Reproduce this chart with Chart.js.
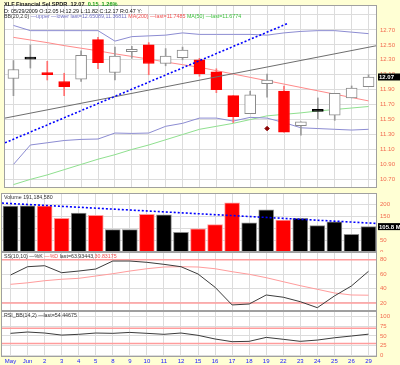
<!DOCTYPE html>
<html>
<head>
<meta charset="utf-8">
<script src="https://cdn.jsdelivr.net/npm/chart.js@4.4.0/dist/chart.umd.min.js"></script>
<style>
  html, body { margin: 0; padding: 0; background: #ffffd4; }
  #wrap { position: relative; width: 400px; height: 365px; overflow: hidden; }
  canvas { position: absolute; left: 0; }
  .lbl { position: absolute; left: 4px; font-family: "Liberation Sans", Arial, sans-serif; font-size: 5.3px; white-space: nowrap; color: #333; line-height: 6px; }
</style>
</head>
<body>
<div id="wrap">
  <canvas id="priceCanvas" width="400" height="193" style="top:0"></canvas>
  <canvas id="volCanvas" width="400" height="59" style="top:193px"></canvas>
  <canvas id="ssCanvas" width="400" height="59" style="top:252px"></canvas>
  <canvas id="rsiCanvas" width="400" height="54" style="top:311px"></canvas>

  <div class="lbl" style="top:1px;font-size:5.6px;font-weight:bold;color:#222">XLF Financial Sel SPDR &nbsp;12.07 &nbsp;<span style="color:#1ea01e">0.15 &nbsp;1.26%</span></div>
  <div class="lbl" style="top:8px;color:#111;font-size:5.4px">D: 05/29/2009 O:12.05 H:12.29 L:11.82 C:12.17 R:0.47 Y:</div>
  <div class="lbl" style="top:13px">BB(20,2.0) <span style="color:#6f6fc4">&mdash;upper &mdash;lower last=12.65089,11.36811</span> <span style="color:#f05050">MA(200) &mdash;last=11.7485</span> <span style="color:#3cc03c">MA(50) &mdash;last=11.6774</span></div>
  <div class="lbl" style="top:194px">Volume 191,184,580</div>
  <div class="lbl" style="top:253px">SS(10,10) &mdash;%K <span style="color:#f05050">&mdash;%D</span> last=63.93443,<span style="color:#f05050">30.83175</span></div>
  <div class="lbl" style="top:312px">RSI_BB(14,2) &mdash;last=54.44675</div>
</div>

<script>
// trading days, Friday May 29 to Monday Jun 29 2009
const dates = ['May', 'Jun', '2', '3', '4', '5', '8', '9', '10', '11', '12', '15', '16', '17', '18', '19', '22', '23', '24', '25', '26', '29'];

const openP  = [12.05, 12.31, 12.13, 12.01, 12.04, 12.57, 12.13, 12.41, 12.50, 12.25, 12.33, 12.30, 12.14, 11.82, 11.58, 11.98, 11.88, 11.42, 11.61, 11.56, 11.79, 11.94];
const highP  = [12.29, 12.50, 12.28, 12.12, 12.42, 12.60, 12.47, 12.48, 12.53, 12.45, 12.47, 12.32, 12.18, 11.82, 11.88, 12.11, 11.95, 11.47, 11.79, 11.85, 11.95, 12.10];
const lowP   = [11.82, 12.19, 12.03, 11.82, 12.01, 12.18, 12.03, 12.32, 12.10, 12.22, 12.30, 12.08, 11.86, 11.46, 11.58, 11.80, 11.33, 11.29, 11.51, 11.49, 11.79, 11.94];
const closeP = [12.17, 12.31, 12.10, 11.94, 12.36, 12.26, 12.35, 12.44, 12.25, 12.35, 12.43, 12.11, 11.90, 11.54, 11.83, 12.03, 11.33, 11.47, 11.61, 11.85, 11.92, 12.07];

const bbUpper = [12.76, 12.69, 12.69, 12.69, 12.69, 12.69, 12.55, 12.61, 12.62, 12.63, 12.66, 12.64, 12.64, 12.64, 12.64, 12.63, 12.66, 12.68, 12.69, 12.69, 12.67, 12.65];
const bbLower = [10.90, 11.16, 11.19, 11.22, 11.235, 11.24, 11.32, 11.315, 11.32, 11.41, 11.45, 11.52, 11.52, 11.48, 11.53, 11.52, 11.46, 11.39, 11.38, 11.37, 11.36, 11.37];
const ma200 = [12.60, 12.565, 12.53, 12.49, 12.455, 12.42, 12.38, 12.345, 12.31, 12.27, 12.235, 12.20, 12.155, 12.11, 12.065, 12.02, 11.975, 11.93, 11.885, 11.84, 11.795, 11.75];
const ma50 = [10.63, 10.70, 10.76, 10.83, 10.90, 10.97, 11.03, 11.10, 11.16, 11.23, 11.30, 11.37, 11.41, 11.45, 11.50, 11.55, 11.57, 11.59, 11.615, 11.635, 11.655, 11.675];

// hand drawn trend lines (date index, value)
const trendUpX = [-0.5, 16.26];
const trendUpY = [11.19, 12.79];
const trendGrayX = [-0.5, 21.5];
const trendGrayY = [11.52, 12.49];
const markerX = [15];
const markerY = [11.38];

// volume in millions
const volume = [191.2, 193, 193, 140, 162, 153, 93, 93, 157, 155, 82, 97, 114, 205, 122, 176, 133, 140, 110, 126, 74, 105.8];
const volTrendX = [-0.5, 21.5];
const volTrendY = [204, 119];

const ssK = [58.8, 70.3, 71.7, 62, 64.3, 67.1, 78.2, 78.2, 76.4, 73.6, 70.3, 60.2, 41.8, 17.3, 18.6, 31.1, 28, 21.8, 13.5, 29.7, 43.6, 63.9];
const ssD = [45.9, 48, 50.9, 52.9, 54.2, 57.4, 60.6, 64.3, 67.5, 69.9, 70.3, 69.9, 67.5, 63.4, 59.8, 55.1, 49.5, 44, 39, 33.9, 31.1, 30.8];
const rsi = [56.6, 60, 57.4, 52, 54, 57.4, 56.6, 59, 56.6, 54, 57.4, 51.4, 41.8, 34.8, 35.7, 46, 41, 35.7, 39, 45, 49.6, 54.4];

const priceTicks = [10.7, 10.8, 10.9, 11.0, 11.1, 11.2, 11.3, 11.4, 11.5, 11.6, 11.7, 11.8, 11.9, 12.0, 12.1, 12.2, 12.3, 12.4, 12.5, 12.6, 12.7, 12.8, 12.9];
const volTicks = [0, 25, 50, 75, 100, 125, 150, 175, 200];
const ssTicks = [20, 30, 40, 50, 60, 70, 80];
const rsiTicks = [0, 25, 50, 75, 100];
const ssLevels = [20, 80];
const rsiLevels = [30, 70];

// helpers
const pts = (xs, ys) => xs.map((x, i) => ({ x: x, y: ys[i] }));
const series = arr => arr.map((v, i) => ({ x: i, y: v }));
const ranges = (a, b) => a.map((v, i) => ({ x: i, y: [v, b[i]] }));
const levelLine = v => [{ x: -0.5, y: v }, { x: 21.5, y: v }];

const upDay = closeP.map((c, i) => i === 0 ? true : c >= closeP[i - 1]);
const bodyFill = openP.map((o, i) => closeP[i] > o ? '#ffffff' : (upDay[i] ? '#000000' : '#ff0000'));
const bodyEdge = openP.map((o, i) => closeP[i] > o ? (upDay[i] ? '#8a8a8a' : '#ff0000') : bodyFill[i]);
const wickColor = upDay.map(u => u ? '#9a9a9a' : '#ff7070');

const GRID = '#dcdcdc';
const TICK = '#f26b4f';

const frame = {
  id: 'frame',
  beforeDraw(chart) {
    const { ctx, chartArea: a } = chart;
    ctx.save();
    ctx.fillStyle = '#ffffff';
    ctx.fillRect(a.left, a.top, a.right - a.left, a.bottom - a.top);
    ctx.restore();
  },
  afterDraw(chart, args, opts) {
    const { ctx, chartArea: a } = chart;
    ctx.save();
    ctx.strokeStyle = '#a0a0a0';
    ctx.lineWidth = 1;
    ctx.strokeRect(a.left - 0.5, a.top + 0.5, a.right - a.left, a.bottom - a.top - 1);
    if (opts.value != null) {
      const y = chart.scales.y.getPixelForValue(opts.value);
      ctx.fillStyle = '#000';
      ctx.fillRect(a.right + 1, y - 3.5, 22, 7);
      ctx.fillStyle = '#fff';
      ctx.font = 'bold 6px "Liberation Sans"';
      ctx.textBaseline = 'middle';
      ctx.fillText(opts.text, a.right + 2, y + 0.5);
    }
    ctx.restore();
  }
};

function xAxis(showLabels) {
  return {
    type: 'linear', min: -0.5, max: 21.5, offset: false,
    afterBuildTicks: s => { s.ticks = dates.map((d, i) => ({ value: i })); },
    grid: { color: GRID, drawTicks: false, offset: false },
    border: { display: false },
    ticks: {
      display: showLabels, autoSkip: false, maxRotation: 0, padding: 1,
      color: '#2020ff', font: { size: 6, family: 'Liberation Sans' },
      callback: v => dates[v]
    },
    afterFit: s => {
      s.height = showLabels ? 8 : 0;
      s.paddingLeft = 0;
      s.paddingRight = 0;
    }
  };
}

function yAxis(min, max, tickVals, fmt) {
  return {
    position: 'right', min: min, max: max, beginAtZero: false,
    afterBuildTicks: s => { s.ticks = tickVals.map(v => ({ value: v })); },
    grid: { color: GRID, drawTicks: false },
    border: { display: false },
    ticks: { color: TICK, font: { size: 6, family: 'Liberation Sans' }, padding: 3, callback: fmt },
    afterFit: s => {
      s.width = 23;
      s.paddingTop = 0;
      s.paddingBottom = 0;
    }
  };
}

function baseOptions(xa, ya, frameOpts, padTop) {
  return {
    responsive: false, animation: false, devicePixelRatio: 1,
    layout: { padding: { top: padTop, left: 2, right: 0, bottom: 0 } },
    plugins: { legend: { display: false }, tooltip: { enabled: false }, frame: frameOpts },
    elements: { line: { tension: 0 }, point: { radius: 0 } },
    scales: { x: xa, y: ya }
  };
}

const lineDs = (data, color, order, extra) => Object.assign({
  type: 'line', data: data, borderColor: color, backgroundColor: color,
  borderWidth: 1, pointRadius: 0, fill: false, order: order
}, extra || {});

// price panel
new Chart(document.getElementById('priceCanvas'), {
  type: 'bar',
  data: {
    datasets: [
      lineDs(pts(trendUpX, trendUpY), '#0000ff', 0, { borderWidth: 1.6, borderDash: [2, 2] }),
      lineDs(pts(trendGrayX, trendGrayY), '#6e6e6e', 0),
      lineDs(pts(markerX, markerY), '#8b0000', 1, { showLine: false, pointRadius: 2.2, pointStyle: 'rectRot' }),
      {
        data: ranges(openP, closeP), backgroundColor: bodyFill, borderColor: bodyEdge,
        borderWidth: 1, borderSkipped: false, barThickness: 11, minBarLength: 2, grouped: false, order: 2
      },
      { data: ranges(lowP, highP), backgroundColor: wickColor, barThickness: 1, grouped: false, order: 3 },
      lineDs(series(bbUpper), '#8c8cd2', 4),
      lineDs(series(bbLower), '#8c8cd2', 4),
      lineDs(series(ma200), '#ff8a8a', 4),
      lineDs(series(ma50), '#8fe08f', 4)
    ]
  },
  options: baseOptions(
    xAxis(false),
    yAxis(10.5846, 13.0333, priceTicks, v => v <= 12.75 ? v.toFixed(2) : ''),
    { value: closeP[closeP.length - 1], text: closeP[closeP.length - 1].toFixed(2) },
    2
  ),
  plugins: [frame]
});

// volume panel
new Chart(document.getElementById('volCanvas'), {
  type: 'bar',
  data: {
    datasets: [
      lineDs(pts(volTrendX, volTrendY), '#0000ff', 0, { borderWidth: 1.6, borderDash: [2, 2] }),
      {
        data: series(volume),
        backgroundColor: upDay.map(u => u ? '#000000' : '#ff0000'),
        borderColor: upDay.map(u => u ? '#8c8c8c' : '#ff9a9a'),
        borderWidth: 1, barThickness: 15, grouped: false, order: 1
      }
    ]
  },
  options: baseOptions(
    xAxis(false),
    yAxis(0, 246, volTicks, v => String(v)),
    { value: volume[volume.length - 1], text: volume[volume.length - 1].toFixed(1) + ' M' },
    0
  ),
  plugins: [frame]
});

// slow stochastic panel
new Chart(document.getElementById('ssCanvas'), {
  type: 'line',
  data: {
    datasets: ssLevels.map(v => lineDs(levelLine(v), '#ff9c9c', 2, { borderWidth: 1.5 })).concat([
      lineDs(series(ssK), '#3c3c3c', 0),
      lineDs(series(ssD), '#ff9c9c', 1)
    ])
  },
  options: baseOptions(xAxis(false), yAxis(8.9, 90.7, ssTicks, v => String(v)), {}, 0),
  plugins: [frame]
});

// RSI panel
new Chart(document.getElementById('rsiCanvas'), {
  type: 'line',
  data: {
    datasets: rsiLevels.map(v => lineDs(levelLine(v), '#ff9c9c', 2, { borderWidth: 1.5 })).concat([
      lineDs(series(rsi), '#3c3c3c', 0)
    ])
  },
  options: baseOptions(xAxis(true), yAxis(-5.2, 114.9, rsiTicks, v => String(v)), {}, 0),
  plugins: [frame]
});
</script>
</body>
</html>
